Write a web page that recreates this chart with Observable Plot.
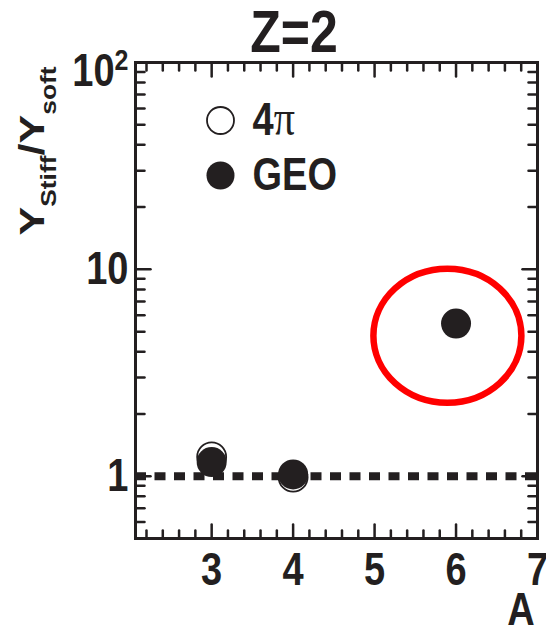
<!DOCTYPE html>
<html><head><meta charset="utf-8">
<script src="https://cdn.jsdelivr.net/npm/d3@7"></script>
<script src="https://cdn.jsdelivr.net/npm/@observablehq/plot@0.6"></script>
<style>
body{margin:0;background:#fff;}
svg{display:block}
</style>
</head><body><div id="chart"></div>
<script>
// ---- data ----
const title = "Z=2";
const xLabel = "A";
const massNumbers4pi = [3, 4];
const ratio4pi = [1.24, 0.99];
const massNumbersGeo = [3, 4, 6];
const ratioGeo = [1.17, 1.02, 5.47];
const xTicks = [3, 4, 5, 6, 7];
const xTickLabels = ["3", "4", "5", "6", "7"];
const yTicks = [1, 10, 100];
const yTickLabels = ["1", "10", "10²"];
const legendLabels = ["4π", "GEO"];
const referenceLevel = [1];
const highlightA = [5.9];
const highlightRatio = [4.75];

// ---- style ----
const ink = "#231f20";
const font = "'Liberation Sans', Arial, Helvetica, sans-serif";
const stretch = 1.2;

const data4pi = massNumbers4pi.map((a, i) => ({a, r: ratio4pi[i]}));
const dataGeo = massNumbersGeo.map((a, i) => ({a, r: ratioGeo[i]}));

const xMinor = d3.range(11, 36).map(k => k / 5).filter(v => Math.abs(v - Math.round(v)) > 1e-9);
const xMajor = xTicks;
const yMinor = [0.6, 0.7, 0.8, 0.9, 2, 3, 4, 5, 6, 7, 8, 9, 20, 30, 40, 50, 60, 70, 80, 90];
const yMajor = yTicks;

const line = {draw(context, l) { context.moveTo(0, 0); context.lineTo(0, -l); }};
const tk = {stroke: ink, strokeWidth: 2.5, anchor: "start", shape: line};

const plot = Plot.plot({
  width: 546,
  height: 630,
  marginTop: 62,
  marginBottom: 92,
  marginLeft: 135,
  marginRight: 9,
  style: {fontFamily: font, fontWeight: "bold", fontSize: "38px", color: ink, background: "#fff", overflow: "visible"},
  x: {type: "linear", domain: [2.065, 7]},
  y: {type: "log", domain: [0.5, 100]},
  marks: [
    Plot.ruleY(referenceLevel, {stroke: ink, strokeWidth: 8, strokeDasharray: "11,8.5"}),
    // inward ticks
    Plot.vector(yMajor, {y: d => d, frameAnchor: "left", rotate: 90, length: 15, ...tk}),
    Plot.vector(yMinor, {y: d => d, frameAnchor: "left", rotate: 90, length: 9, ...tk}),
    Plot.vector(yMajor, {y: d => d, frameAnchor: "right", rotate: -90, length: 15, ...tk}),
    Plot.vector(yMinor, {y: d => d, frameAnchor: "right", rotate: -90, length: 9, ...tk}),
    Plot.vector(xMajor, {x: d => d, frameAnchor: "bottom", rotate: 0, length: 14, ...tk}),
    Plot.vector(xMinor, {x: d => d, frameAnchor: "bottom", rotate: 0, length: 8, ...tk}),
    Plot.vector(xMajor, {x: d => d, frameAnchor: "top", rotate: 180, length: 14, ...tk}),
    Plot.vector(xMinor, {x: d => d, frameAnchor: "top", rotate: 180, length: 8, ...tk}),
    Plot.axisY({ticks: yTicks, tickFormat: d => yTickLabels[yTicks.indexOf(d)], tickSize: 0, tickPadding: 7, label: null}),
    Plot.axisX({ticks: xTicks, tickFormat: d => xTickLabels[xTicks.indexOf(d)], tickSize: 0, tickPadding: 14, label: null}),
    Plot.frame({stroke: ink, strokeWidth: 3}),
    // data
    Plot.dot(data4pi, {x: "a", y: "r", r: 14.5, fill: "#fff", stroke: ink, strokeWidth: 1.8}),
    Plot.dot(dataGeo, {x: "a", y: "r", r: 15, fill: ink}),
    // legend
    Plot.dot([legendLabels[0]], {frameAnchor: "top-left", dx: 85, dy: 58, r: 13.5, fill: "#fff", stroke: ink, strokeWidth: 1.8}),
    Plot.dot([legendLabels[1]], {frameAnchor: "top-left", dx: 85, dy: 113, r: 14, fill: ink}),
    Plot.text([legendLabels[0]], {text: d => d, frameAnchor: "top-left", dx: 117, dy: 58, textAnchor: "start", lineAnchor: "middle", fill: ink}),
    Plot.text([legendLabels[1]], {text: d => d, frameAnchor: "top-left", dx: 117, dy: 113, textAnchor: "start", lineAnchor: "middle", fill: ink})
  ]
});

document.getElementById("chart").appendChild(plot);
const svg = d3.select(plot);

// vertical glyph stretch as in the reference
svg.selectAll("text").each(function() {
  const t = this.getAttribute("transform") || "";
  this.setAttribute("transform", (t + ` scale(1,${stretch})`).trim());
  const s = this.textContent;
  if (s === "10²") {
    this.textContent = "";
    const sel = d3.select(this);
    sel.append("tspan").text("10").attr("dy", "0.2em");
    sel.append("tspan").text("2").attr("font-size", 25).attr("dy", "-0.55em");
  } else if (s === "4π") {
    this.textContent = "";
    const sel = d3.select(this);
    sel.append("tspan").text("4");
    sel.append("tspan").text("π").attr("font-family", "'Liberation Serif', 'DejaVu Serif', serif").attr("font-weight", "normal").attr("font-size", 42);
  }
});

const xs = plot.scale("x"), ys = plot.scale("y");
// highlight ellipse
svg.append("ellipse")
  .attr("cx", xs.apply(highlightA[0]))
  .attr("cy", ys.apply(highlightRatio[0]))
  .attr("rx", 74).attr("ry", 67)
  .attr("fill", "none").attr("stroke", "#ff0000").attr("stroke-width", 6.5);

// title
svg.append("text")
  .attr("transform", `translate(294,52) scale(1,${stretch})`)
  .attr("text-anchor", "middle")
  .attr("font-size", 50).attr("font-weight", "bold").attr("fill", ink)
  .text(title);

// x label
svg.append("text")
  .attr("transform", `translate(521,625) scale(1,${stretch})`)
  .attr("text-anchor", "middle")
  .attr("font-size", 38).attr("font-weight", "bold").attr("fill", ink)
  .text(xLabel);

// y label with subscripts
const yl = svg.append("text")
  .attr("transform", `translate(44,151) rotate(-90) scale(${stretch},1)`)
  .attr("text-anchor", "middle")
  .attr("font-weight", "bold").attr("fill", ink).attr("font-size", 36);
yl.append("tspan").text("Y");
yl.append("tspan").attr("font-size", 22).attr("dy", 12).text("Stiff");
yl.append("tspan").attr("dy", -12).text("/Y");
yl.append("tspan").attr("font-size", 22).attr("dy", 12).text("soft");
</script>
</body></html>
